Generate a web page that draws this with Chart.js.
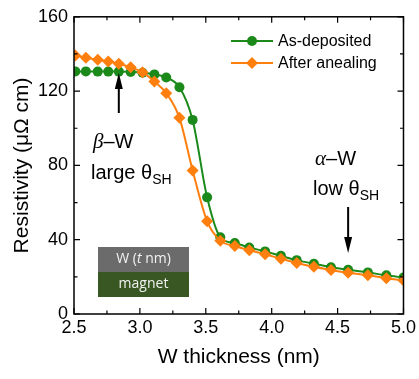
<!DOCTYPE html>
<html>
<head>
<meta charset="utf-8">
<script src="https://cdn.jsdelivr.net/npm/chart.js@4.4.1/dist/chart.umd.min.js"></script>
<style>
  html, body { margin: 0; padding: 0; background: #fff; }
</style>
</head>
<body>
<canvas id="resChart" width="419" height="379"></canvas>
<script>
// W thickness (nm) of each sample
const thickness = [2.51, 2.59, 2.68, 2.76, 2.84, 2.93, 3.02, 3.11, 3.20, 3.30, 3.40, 3.51,
                   3.61, 3.72, 3.83, 3.95, 4.07, 4.19, 4.32, 4.45, 4.58, 4.73, 4.87, 5.00];
// resistivity (µΩ cm)
const asDeposited = [130.6, 130.6, 130.5, 130.5, 130.5, 130.3, 129.9, 129.0, 127.3, 122.1, 104.5, 62.8,
                     41.3, 38.2, 35.8, 33.7, 31.3, 29.0, 27.0, 25.2, 23.8, 22.4, 20.8, 19.6];
const afterAnnealing = [139.2, 137.9, 136.9, 135.9, 134.7, 132.8, 130.1, 125.2, 118.9, 105.6, 77.3, 49.9,
                        39.5, 36.6, 34.3, 32.2, 29.7, 27.5, 25.4, 23.7, 22.2, 20.9, 19.3, 18.1];
const seriesNames = ['As-deposited', 'After anealing'];

const GREEN = '#1b8a1b';
const ORANGE = '#ff7f0e';
const FONT = '"Liberation Sans", Arial, sans-serif';

const toPoints = (ys) => ys.map((v, i) => ({ x: thickness[i], y: v }));

// box frame with inward ticks on all four sides (major + one minor between)
const framePlugin = {
  id: 'frame',
  afterDraw(chart) {
    const { ctx, chartArea: a, scales: { x, y } } = chart;
    ctx.save();
    ctx.strokeStyle = '#000';
    ctx.lineWidth = 1.5;
    ctx.strokeRect(a.left, a.top, a.right - a.left, a.bottom - a.top);
    ctx.lineWidth = 1.2;
    ctx.beginPath();
    const xt = x.ticks.map(t => t.value);
    const yt = y.ticks.map(t => t.value);
    xt.forEach((v, i) => {
      const px = x.getPixelForValue(v);
      ctx.moveTo(px, a.bottom); ctx.lineTo(px, a.bottom - 6);
      ctx.moveTo(px, a.top); ctx.lineTo(px, a.top + 6);
      if (i < xt.length - 1) {
        const pm = x.getPixelForValue((v + xt[i + 1]) / 2);
        ctx.moveTo(pm, a.bottom); ctx.lineTo(pm, a.bottom - 3.5);
        ctx.moveTo(pm, a.top); ctx.lineTo(pm, a.top + 3.5);
      }
    });
    yt.forEach((v, i) => {
      const py = y.getPixelForValue(v);
      ctx.moveTo(a.left, py); ctx.lineTo(a.left + 6, py);
      ctx.moveTo(a.right, py); ctx.lineTo(a.right - 6, py);
      if (i < yt.length - 1) {
        const pm = y.getPixelForValue((v + yt[i + 1]) / 2);
        ctx.moveTo(a.left, pm); ctx.lineTo(a.left + 3.5, pm);
        ctx.moveTo(a.right, pm); ctx.lineTo(a.right - 3.5, pm);
      }
    });
    ctx.stroke();
    ctx.restore();
  }
};

function arrow(ctx, x, y0, y1) {
  // shaft from y0, tip at y1
  const dir = y1 > y0 ? 1 : -1;
  ctx.beginPath();
  ctx.moveTo(x, y0);
  ctx.lineTo(x, y1 - dir * 14);
  ctx.lineWidth = 2;
  ctx.stroke();
  ctx.beginPath();
  ctx.moveTo(x, y1);
  ctx.lineTo(x - 4, y1 - dir * 16);
  ctx.lineTo(x + 4, y1 - dir * 16);
  ctx.closePath();
  ctx.fill();
}

function textSub(ctx, main, sub, x, y) {
  ctx.font = '20px ' + FONT;
  ctx.fillText(main, x, y);
  const w = ctx.measureText(main).width;
  ctx.font = '14px ' + FONT;
  ctx.fillText(sub, x + w, y + 5);
}

function greekW(ctx, letter, x, y) {
  ctx.font = 'italic 21px "Liberation Serif", "Times New Roman", serif';
  ctx.fillText(letter, x, y);
  const w = ctx.measureText(letter).width;
  ctx.font = '20px ' + FONT;
  ctx.fillText('\u2013W', x + w, y);
}

const notesPlugin = {
  id: 'notes',
  afterDatasetsDraw(chart) {
    const { ctx, scales: { x } } = chart;
    ctx.save();
    ctx.fillStyle = '#000';
    ctx.strokeStyle = '#000';
    ctx.textBaseline = 'alphabetic';
    ctx.textAlign = 'left';

    arrow(ctx, x.getPixelForValue(2.84), 113, 73);
    arrow(ctx, x.getPixelForValue(4.58), 207, 253);

    greekW(ctx, '\u03b2', 93, 148);
    textSub(ctx, 'large \u03b8', 'SH', 91, 179);
    greekW(ctx, '\u03b1', 315, 165);
    textSub(ctx, 'low \u03b8', 'SH', 313, 195);

    // layer stack sketch
    ctx.fillStyle = '#6b6b6b';
    ctx.fillRect(98, 247, 91, 25);
    ctx.fillStyle = '#385723';
    ctx.fillRect(98, 272, 91, 25);
    ctx.fillStyle = '#f2f2f2';
    ctx.textBaseline = 'middle';
    const parts = ['W (', 't', ' nm)'];
    const fonts = ['14px "Open Sans", sans-serif', 'italic 14px "Open Sans", sans-serif', '14px "Open Sans", sans-serif'];
    let total = 0;
    parts.forEach((p, i) => { ctx.font = fonts[i]; total += ctx.measureText(p).width; });
    let cx = 143.5 - total / 2;
    parts.forEach((p, i) => { ctx.font = fonts[i]; ctx.fillText(p, cx, 259.5); cx += ctx.measureText(p).width; });
    ctx.textAlign = 'center';
    ctx.font = '14px "Open Sans", sans-serif';
    ctx.fillText('magnet', 143.5, 284.5);

    // legend
    const items = [
      { name: seriesNames[0], ds: chart.data.datasets[0], y: 41 },
      { name: seriesNames[1], ds: chart.data.datasets[1], y: 63 }
    ];
    ctx.textAlign = 'left';
    items.forEach(it => {
      ctx.strokeStyle = it.ds.borderColor;
      ctx.lineWidth = 2;
      ctx.beginPath();
      ctx.moveTo(231, it.y);
      ctx.lineTo(273, it.y);
      ctx.stroke();
      ctx.fillStyle = it.ds.pointBackgroundColor;
      Chart.helpers.drawPoint(ctx, {
        pointStyle: it.ds.pointStyle, radius: it.ds.pointRadius, borderWidth: 0, rotation: 0
      }, 252, it.y);
      ctx.fillStyle = '#000';
      ctx.font = '16px ' + FONT;
      ctx.fillText(it.name, 278, it.y + 1);
    });
    ctx.restore();
  }
};

new Chart(document.getElementById('resChart'), {
  type: 'line',
  data: {
    datasets: [
      {
        label: seriesNames[0],
        data: toPoints(asDeposited),
        borderColor: GREEN,
        backgroundColor: GREEN,
        pointBackgroundColor: GREEN,
        pointBorderWidth: 0,
        pointStyle: 'circle',
        pointRadius: 5,
        borderWidth: 2,
        cubicInterpolationMode: 'monotone',
        order: 2
      },
      {
        label: seriesNames[1],
        data: toPoints(afterAnnealing),
        borderColor: ORANGE,
        backgroundColor: ORANGE,
        pointBackgroundColor: ORANGE,
        pointBorderWidth: 0,
        pointStyle: 'rectRot',
        pointRadius: 6,
        borderWidth: 2,
        cubicInterpolationMode: 'monotone',
        order: 1
      }
    ]
  },
  options: {
    responsive: false,
    animation: false,
    layout: { padding: { top: 14, right: 13, left: 0, bottom: 0 } },
    plugins: { legend: { display: false }, tooltip: { enabled: false } },
    scales: {
      x: {
        type: 'linear',
        min: 2.5,
        max: 5.0,
        grid: { display: false, drawTicks: false },
        border: { display: false },
        ticks: {
          stepSize: 0.5,
          padding: 3,
          color: '#000',
          font: { family: FONT, size: 18 },
          callback: (v) => v.toFixed(1)
        },
        title: {
          display: true,
          text: 'W thickness (nm)',
          color: '#000',
          font: { family: FONT, size: 21 },
          padding: { top: 0, bottom: 9 }
        },
        afterFit: (s) => { s.height = 65; }
      },
      y: {
        min: 0,
        max: 160,
        grid: { display: false, drawTicks: false },
        border: { display: false },
        ticks: {
          stepSize: 40,
          padding: 6,
          color: '#000',
          font: { family: FONT, size: 18 }
        },
        title: {
          display: true,
          text: 'Resistivity (\u03bc\u03a9 cm)',
          color: '#000',
          font: { family: FONT, size: 21 },
          padding: { top: 10, bottom: 0 }
        },
        afterFit: (s) => { s.width = 74; }
      }
    }
  },
  plugins: [framePlugin, notesPlugin]
});
</script>
</body>
</html>
